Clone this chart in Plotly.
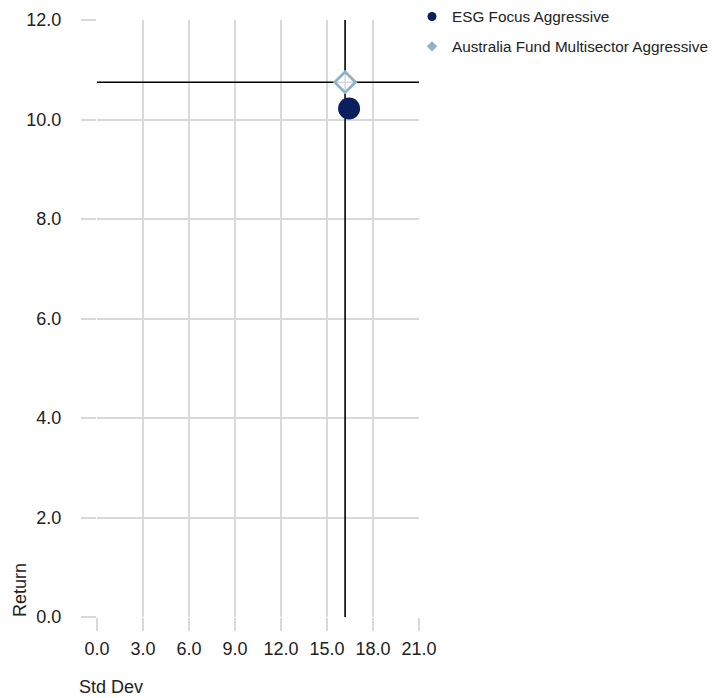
import plotly.graph_objects as go

# Data
series_names = ["ESG Focus Aggressive", "Australia Fund Multisector Aggressive"]
std_dev = [16.44, 16.18]
returns = [10.22, 10.75]
benchmark_std = 16.18
benchmark_ret = 10.75
x_ticks = [0, 3, 6, 9, 12, 15, 18, 21]
y_ticks = [0, 2, 4, 6, 8, 10, 12]

navy = "#0b1f5e"
steel = "#8fb4c6"
grid = "#d9d9d9"
font_family = "Liberation Sans, Arial, sans-serif"

# page body has an 8px default margin; figure is sized to fit the window
W, H = 715, 690
L, T = 89, 12
PW, PH = 322, 597

fig = go.Figure()

# crosshair lines (benchmark)
fig.add_trace(go.Scatter(x=[x_ticks[0], x_ticks[-1]], y=[benchmark_ret, benchmark_ret],
                         mode="lines", line=dict(color="black", width=1.6),
                         showlegend=False, hoverinfo="skip"))
fig.add_trace(go.Scatter(x=[benchmark_std, benchmark_std], y=[y_ticks[0], y_ticks[-1]],
                         mode="lines", line=dict(color="black", width=1.6),
                         showlegend=False, hoverinfo="skip"))

# actual points
fig.add_trace(go.Scatter(x=[std_dev[0]], y=[returns[0]], mode="markers",
                         marker=dict(symbol="circle", size=22, color=navy),
                         showlegend=False, name=series_names[0]))
fig.add_trace(go.Scatter(x=[std_dev[1]], y=[returns[1]], mode="markers",
                         marker=dict(symbol="diamond", size=16, color="rgba(255,255,255,0.85)",
                                     line=dict(color=steel, width=2.8)),
                         showlegend=False, name=series_names[1]))

# legend entries
fig.add_trace(go.Scatter(x=[None], y=[None], mode="markers", name=series_names[0],
                         marker=dict(symbol="circle", size=9, color=navy),
                         legendgroup="a"))
fig.add_trace(go.Scatter(x=[None], y=[None], mode="markers", name=series_names[1],
                         marker=dict(symbol="diamond", size=8, color=steel),
                         legendgroup="b"))

fig.update_xaxes(range=[x_ticks[0], x_ticks[-1]], tickvals=x_ticks,
                 ticktext=[f"{v:.1f}" for v in x_ticks],
                 showgrid=True, gridcolor=grid, gridwidth=2, zeroline=False,
                 showline=False, ticks="outside", ticklen=13, tickwidth=2, tickcolor=grid,
                 ticklabelstandoff=2, automargin=False,
                 tickfont=dict(family=font_family, size=18, color="#222222"))
fig.update_yaxes(range=[y_ticks[0], y_ticks[-1]], tickvals=y_ticks,
                 ticktext=[f"{v:.1f}" for v in y_ticks],
                 showgrid=True, gridcolor=grid, gridwidth=2, zeroline=False,
                 showline=False, ticks="outside", ticklen=15, tickwidth=2, tickcolor=grid,
                 ticklabelstandoff=16, automargin=False,
                 tickfont=dict(family=font_family, size=18, color="#222222"))

# window coords -> figure coords: subtract 8
fig.add_annotation(text="Return", xref="paper", yref="paper",
                   x=((20 - 8) - L) / PW, y=((T + PH) - (590 - 8)) / PH, textangle=-90,
                   showarrow=False, xanchor="center", yanchor="middle",
                   font=dict(family=font_family, size=18, color="#222222"))
fig.add_annotation(text="Std Dev", xref="paper", yref="paper",
                   x=((111 - 8) - L) / PW, y=((T + PH) - (H + 1)) / PH,
                   showarrow=False, xanchor="center", yanchor="bottom",
                   font=dict(family=font_family, size=18, color="#222222"))

fig.update_layout(
    width=W, height=H,
    margin=dict(l=L, r=W - L - PW, t=T, b=H - T - PH, autoexpand=False),
    plot_bgcolor="white", paper_bgcolor="white",
    font=dict(family=font_family, color="#222222"),
    legend=dict(x=((412 - 8) - L) / PW, y=((T + PH) - (0 - 8)) / PH,
                xanchor="left", yanchor="top",
                font=dict(family=font_family, size=15.3, color="#222222"),
                tracegroupgap=7, itemwidth=30, bgcolor="rgba(0,0,0,0)"),
    showlegend=True,
)

fig.write_html("out.html")
